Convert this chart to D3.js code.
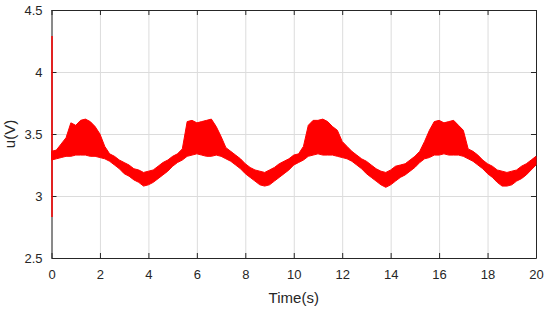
<!DOCTYPE html>
<html>
<head>
<meta charset="utf-8">
<script src="https://cdn.jsdelivr.net/npm/d3@7"></script>
<style>
  body { margin: 0; background: #fff; }
  .axis text { font-family: "Liberation Sans", Arial, sans-serif; font-size: 13px; fill: #262626; }
  .axis path, .axis line { stroke: #262626; }
  .grid line { stroke: #dcdcdc; }
  .grid path { display: none; }
</style>
</head>
<body>
<svg id="chart"></svg>
<script>
// sample times (s)
let time = [
  0.0, 0.2, 0.4, 0.6, 0.8, 1.0, 1.2, 1.4, 1.6, 1.8,
  2.0, 2.2, 2.4, 2.6, 2.8, 3.0, 3.2, 3.4, 3.6, 3.8,
  4.0, 4.2, 4.4, 4.6, 4.8, 5.0, 5.2, 5.4, 5.6, 5.8,
  6.0, 6.2, 6.4, 6.6, 6.8, 7.0, 7.2, 7.4, 7.6, 7.8,
  8.0, 8.2, 8.4, 8.6, 8.8, 9.0, 9.2, 9.4, 9.6, 9.8,
  10.0, 10.2, 10.4, 10.6, 10.8, 11.0, 11.2, 11.4, 11.6, 11.8,
  12.0, 12.2, 12.4, 12.6, 12.8, 13.0, 13.2, 13.4, 13.6, 13.8,
  14.0, 14.2, 14.4, 14.6, 14.8, 15.0, 15.2, 15.4, 15.6, 15.8,
  16.0, 16.2, 16.4, 16.6, 16.8, 17.0, 17.2, 17.4, 17.6, 17.8,
  18.0, 18.2, 18.4, 18.6, 18.8, 19.0, 19.2, 19.4, 19.6, 19.8,
  20.0
];
// upper edge of the noisy voltage band (V)
let uHigh = [
  3.36, 3.37, 3.42, 3.47, 3.59, 3.57, 3.61, 3.62, 3.60, 3.56,
  3.50, 3.40, 3.34, 3.32, 3.29, 3.27, 3.25, 3.22, 3.21, 3.19,
  3.20, 3.21, 3.24, 3.27, 3.29, 3.32, 3.34, 3.38, 3.60, 3.61,
  3.59, 3.60, 3.61, 3.62, 3.56, 3.48, 3.39, 3.36, 3.33, 3.30,
  3.26, 3.23, 3.21, 3.20, 3.19, 3.21, 3.23, 3.26, 3.28, 3.30,
  3.33, 3.34, 3.40, 3.57, 3.61, 3.61, 3.62, 3.60, 3.56, 3.53,
  3.44, 3.40, 3.36, 3.33, 3.30, 3.28, 3.25, 3.22, 3.20, 3.19,
  3.21, 3.24, 3.25, 3.26, 3.29, 3.32, 3.36, 3.44, 3.53, 3.60,
  3.61, 3.59, 3.60, 3.61, 3.57, 3.53, 3.38, 3.36, 3.33, 3.29,
  3.26, 3.24, 3.21, 3.20, 3.19, 3.20, 3.21, 3.24, 3.26, 3.29,
  3.32
];
// lower edge of the band (V)
let uLow = [
  3.29, 3.30, 3.31, 3.32, 3.32, 3.33, 3.33, 3.33, 3.32, 3.32,
  3.31, 3.30, 3.28, 3.25, 3.22, 3.18, 3.16, 3.13, 3.11, 3.08,
  3.09, 3.11, 3.14, 3.17, 3.20, 3.24, 3.27, 3.29, 3.32, 3.33,
  3.34, 3.33, 3.32, 3.32, 3.33, 3.32, 3.30, 3.28, 3.25, 3.22,
  3.18, 3.15, 3.12, 3.09, 3.08, 3.09, 3.12, 3.15, 3.18, 3.21,
  3.25, 3.27, 3.29, 3.32, 3.33, 3.34, 3.33, 3.33, 3.33, 3.32,
  3.31, 3.30, 3.28, 3.25, 3.22, 3.18, 3.15, 3.12, 3.09, 3.07,
  3.09, 3.12, 3.15, 3.17, 3.20, 3.23, 3.27, 3.30, 3.31, 3.33,
  3.33, 3.34, 3.33, 3.33, 3.33, 3.32, 3.30, 3.28, 3.25, 3.22,
  3.18, 3.15, 3.11, 3.08, 3.08, 3.09, 3.12, 3.14, 3.17, 3.21,
  3.25
];
// start-up transient at t = 0
let spikeTime = [0, 0];
let spikeVolt = [4.29, 2.83];

let xTicks = [0, 2, 4, 6, 8, 10, 12, 14, 16, 18, 20];
let yTicks = [2.5, 3, 3.5, 4, 4.5];

let margin = {top: 10, right: 14, bottom: 53, left: 51.5};
let width = 550 - margin.left - margin.right;
let height = 311 - margin.top - margin.bottom;

let svg = d3.select("#chart")
    .attr("width", 550)
    .attr("height", 311)
    .append("g")
    .attr("transform", "translate(" + margin.left + "," + margin.top + ")");

let x = d3.scaleLinear().domain([0, 20]).range([0, width]);
let y = d3.scaleLinear().domain([2.5, 4.5]).range([height, 0]);

// grid
svg.append("g")
    .attr("class", "grid")
    .attr("transform", "translate(0," + height + ")")
    .call(d3.axisBottom(x).tickValues(xTicks).tickSize(-height).tickFormat(""));
svg.append("g")
    .attr("class", "grid")
    .call(d3.axisLeft(y).tickValues(yTicks).tickSize(-width).tickFormat(""));

// axes, ticks pointing inward (box on)
svg.append("g")
    .attr("class", "axis")
    .attr("transform", "translate(0," + height + ")")
    .call(d3.axisBottom(x).tickValues(xTicks).tickSizeInner(-5).tickSizeOuter(0).tickPadding(12).tickFormat(d3.format("d")));
svg.append("g")
    .attr("class", "axis")
    .call(d3.axisLeft(y).tickValues(yTicks).tickSizeInner(-5).tickSizeOuter(0).tickPadding(9).tickFormat(d => d));
svg.append("g")
    .attr("class", "axis")
    .call(d3.axisTop(x).tickValues(xTicks).tickSizeInner(-5).tickSizeOuter(0).tickFormat(""));
svg.append("g")
    .attr("class", "axis")
    .attr("transform", "translate(" + width + ",0)")
    .call(d3.axisRight(y).tickValues(yTicks).tickSizeInner(-5).tickSizeOuter(0).tickFormat(""));

// signal band
let band = time.map((t, i) => ({t: t, hi: uHigh[i], lo: uLow[i]}));
svg.append("path")
    .datum(band)
    .attr("fill", "#ff0000")
    .attr("stroke", "#ff0000")
    .attr("stroke-width", 1)
    .attr("d", d3.area()
        .x(d => x(d.t))
        .y0(d => y(d.lo))
        .y1(d => y(d.hi)));

svg.append("line")
    .attr("x1", x(spikeTime[0]) + 0.5)
    .attr("x2", x(spikeTime[1]) + 0.5)
    .attr("y1", y(spikeVolt[0]))
    .attr("y2", y(spikeVolt[1]))
    .attr("stroke", "#ff0000")
    .attr("stroke-width", 1.5);

// axis labels
svg.append("text")
    .text("Time(s)")
    .attr("x", width / 2)
    .attr("y", height + 45)
    .attr("text-anchor", "middle")
    .attr("font-family", "Liberation Sans, Arial, sans-serif")
    .attr("font-size", "15px")
    .attr("fill", "#262626");

svg.append("text")
    .text("u(V)")
    .attr("transform", "translate(" + (-37) + "," + (height / 2) + ") rotate(-90)")
    .attr("text-anchor", "middle")
    .attr("font-family", "Liberation Sans, Arial, sans-serif")
    .attr("font-size", "15px")
    .attr("fill", "#262626");
</script>
</body>
</html>
